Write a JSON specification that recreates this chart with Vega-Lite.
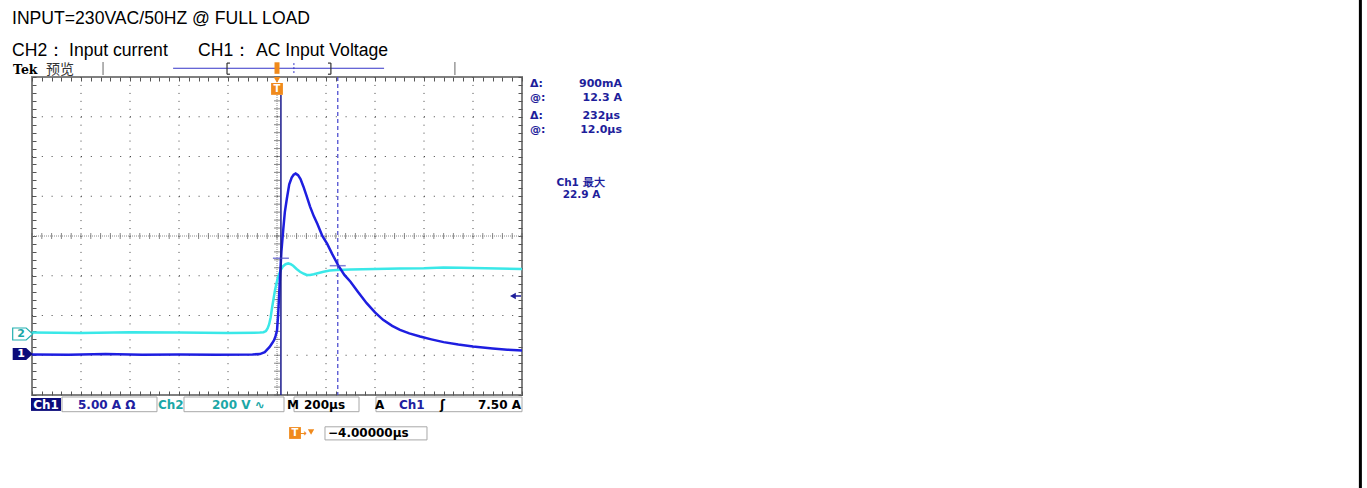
{
  "$schema": "https://vega.github.io/schema/vega-lite/v6.json",
  "width": 490,
  "height": 318,
  "autosize": {"type": "none"},
  "padding": {"left": 32, "top": 77, "right": 845, "bottom": 93},
  "background": "white",
  "config": {"view": {"stroke": "#808080", "strokeWidth": 2}},
  "resolve": {"axis": {"x": "independent", "y": "independent"}},
  "datasets": {
    "ch1": [
      {"t": -1000, "d": -2.98}, {"t": -850, "d": -2.99}, {"t": -700, "d": -2.97}, {"t": -550, "d": -2.99},
      {"t": -400, "d": -2.98}, {"t": -250, "d": -2.99}, {"t": -100, "d": -2.98}, {"t": -70, "d": -2.97},
      {"t": -50, "d": -2.92}, {"t": -30, "d": -2.79}, {"t": -20, "d": -2.7}, {"t": -12, "d": -2.62},
      {"t": -6, "d": -2.52}, {"t": 0, "d": -2.38}, {"t": 5, "d": -1.95}, {"t": 12, "d": -1.06},
      {"t": 18, "d": -0.39}, {"t": 26, "d": 0.2}, {"t": 32, "d": 0.6}, {"t": 40, "d": 0.93},
      {"t": 50, "d": 1.3}, {"t": 60, "d": 1.47}, {"t": 68, "d": 1.54}, {"t": 76, "d": 1.57},
      {"t": 86, "d": 1.53}, {"t": 96, "d": 1.43}, {"t": 108, "d": 1.24}, {"t": 120, "d": 1.02},
      {"t": 135, "d": 0.74}, {"t": 150, "d": 0.5}, {"t": 165, "d": 0.3}, {"t": 185, "d": 0.0},
      {"t": 205, "d": -0.2}, {"t": 225, "d": -0.45}, {"t": 250, "d": -0.74}, {"t": 275, "d": -0.98},
      {"t": 300, "d": -1.15}, {"t": 330, "d": -1.4}, {"t": 366, "d": -1.69}, {"t": 400, "d": -1.92},
      {"t": 433, "d": -2.11}, {"t": 470, "d": -2.26}, {"t": 502, "d": -2.36}, {"t": 540, "d": -2.45},
      {"t": 584, "d": -2.53}, {"t": 630, "d": -2.6}, {"t": 680, "d": -2.67}, {"t": 740, "d": -2.73},
      {"t": 800, "d": -2.78}, {"t": 880, "d": -2.83}, {"t": 940, "d": -2.86}, {"t": 1000, "d": -2.88}
    ],
    "ch2": [
      {"t": -1000, "d": -2.43}, {"t": -800, "d": -2.44}, {"t": -600, "d": -2.42}, {"t": -400, "d": -2.43},
      {"t": -200, "d": -2.44}, {"t": -70, "d": -2.43}, {"t": -55, "d": -2.42}, {"t": -45, "d": -2.39},
      {"t": -38, "d": -2.32}, {"t": -32, "d": -2.22}, {"t": -26, "d": -2.05}, {"t": -20, "d": -1.8},
      {"t": -14, "d": -1.58}, {"t": -8, "d": -1.36}, {"t": -3, "d": -1.22}, {"t": 3, "d": -1.06},
      {"t": 8, "d": -0.97}, {"t": 15, "d": -0.86}, {"t": 25, "d": -0.76}, {"t": 35, "d": -0.71},
      {"t": 46, "d": -0.69}, {"t": 56, "d": -0.71}, {"t": 66, "d": -0.75}, {"t": 80, "d": -0.83},
      {"t": 94, "d": -0.9}, {"t": 110, "d": -0.95}, {"t": 121, "d": -0.98}, {"t": 135, "d": -0.98},
      {"t": 150, "d": -0.96}, {"t": 170, "d": -0.93}, {"t": 190, "d": -0.9}, {"t": 215, "d": -0.87},
      {"t": 244, "d": -0.855}, {"t": 300, "d": -0.84}, {"t": 400, "d": -0.83}, {"t": 500, "d": -0.82},
      {"t": 600, "d": -0.81}, {"t": 680, "d": -0.79}, {"t": 750, "d": -0.8}, {"t": 850, "d": -0.81},
      {"t": 1000, "d": -0.83}
    ],
    "xt": [
      {"t": -1000, "d": 0}, {"t": -960, "d": 0}, {"t": -920, "d": 0}, {"t": -880, "d": 0}, {"t": -840, "d": 0},
      {"t": -800, "d": 0}, {"t": -760, "d": 0}, {"t": -720, "d": 0}, {"t": -680, "d": 0}, {"t": -640, "d": 0},
      {"t": -600, "d": 0}, {"t": -560, "d": 0}, {"t": -520, "d": 0}, {"t": -480, "d": 0}, {"t": -440, "d": 0},
      {"t": -400, "d": 0}, {"t": -360, "d": 0}, {"t": -320, "d": 0}, {"t": -280, "d": 0}, {"t": -240, "d": 0},
      {"t": -200, "d": 0}, {"t": -160, "d": 0}, {"t": -120, "d": 0}, {"t": -80, "d": 0}, {"t": -40, "d": 0},
      {"t": 0, "d": 0}, {"t": 40, "d": 0}, {"t": 80, "d": 0}, {"t": 120, "d": 0}, {"t": 160, "d": 0},
      {"t": 200, "d": 0}, {"t": 240, "d": 0}, {"t": 280, "d": 0}, {"t": 320, "d": 0}, {"t": 360, "d": 0},
      {"t": 400, "d": 0}, {"t": 440, "d": 0}, {"t": 480, "d": 0}, {"t": 520, "d": 0}, {"t": 560, "d": 0},
      {"t": 600, "d": 0}, {"t": 640, "d": 0}, {"t": 680, "d": 0}, {"t": 720, "d": 0}, {"t": 760, "d": 0},
      {"t": 800, "d": 0}, {"t": 840, "d": 0}, {"t": 880, "d": 0}, {"t": 920, "d": 0}, {"t": 960, "d": 0},
      {"t": 1000, "d": 0}
    ],
    "yt": [
      {"d": -4, "t": 0}, {"d": -3.8, "t": 0}, {"d": -3.6, "t": 0}, {"d": -3.4, "t": 0}, {"d": -3.2, "t": 0},
      {"d": -3, "t": 0}, {"d": -2.8, "t": 0}, {"d": -2.6, "t": 0}, {"d": -2.4, "t": 0}, {"d": -2.2, "t": 0},
      {"d": -2, "t": 0}, {"d": -1.8, "t": 0}, {"d": -1.6, "t": 0}, {"d": -1.4, "t": 0}, {"d": -1.2, "t": 0},
      {"d": -1, "t": 0}, {"d": -0.8, "t": 0}, {"d": -0.6, "t": 0}, {"d": -0.4, "t": 0}, {"d": -0.2, "t": 0},
      {"d": 0, "t": 0}, {"d": 0.2, "t": 0}, {"d": 0.4, "t": 0}, {"d": 0.6, "t": 0}, {"d": 0.8, "t": 0},
      {"d": 1, "t": 0}, {"d": 1.2, "t": 0}, {"d": 1.4, "t": 0}, {"d": 1.6, "t": 0}, {"d": 1.8, "t": 0},
      {"d": 2, "t": 0}, {"d": 2.2, "t": 0}, {"d": 2.4, "t": 0}, {"d": 2.6, "t": 0}, {"d": 2.8, "t": 0},
      {"d": 3, "t": 0}, {"d": 3.2, "t": 0}, {"d": 3.4, "t": 0}, {"d": 3.6, "t": 0}, {"d": 3.8, "t": 0},
      {"d": 4, "t": 0}
    ]
  },
  "encoding": {
    "x": {"field": "t", "type": "quantitative", "scale": {"domain": [-1000, 1000], "nice": false, "zero": false}, "axis": null},
    "y": {"field": "d", "type": "quantitative", "scale": {"domain": [-4, 4], "nice": false, "zero": false}, "axis": null}
  },
  "layer": [
    {
      "data": {"values": [
        {"t": -800, "d": 4, "d2": -4}, {"t": -600, "d": 4, "d2": -4}, {"t": -400, "d": 4, "d2": -4}, {"t": -200, "d": 4, "d2": -4},
        {"t": 200, "d": 4, "d2": -4}, {"t": 400, "d": 4, "d2": -4}, {"t": 600, "d": 4, "d2": -4}, {"t": 800, "d": 4, "d2": -4}
      ]},
      "mark": {"type": "rule", "color": "#444444", "strokeWidth": 1, "strokeDash": [1, 6.95]},
      "encoding": {
        "x": {"field": "t", "type": "quantitative", "scale": {"domain": [-1000, 1000], "nice": false, "zero": false},
          "axis": {"orient": "bottom", "values": [-1000,-960,-920,-880,-840,-800,-760,-720,-680,-640,-600,-560,-520,-480,-440,-400,-360,-320,-280,-240,-200,-160,-120,-80,-40,0,40,80,120,160,200,240,280,320,360,400,440,480,520,560,600,640,680,720,760,800,840,880,920,960,1000],
            "tickSize": -4, "tickColor": "#555555", "tickWidth": 1, "labels": false, "domain": false, "grid": false, "title": null}},
        "y2": {"field": "d2"}
      }
    },
    {
      "data": {"values": [
        {"d": -3, "t": -1000, "t2": 1000}, {"d": -2, "t": -1000, "t2": 1000}, {"d": -1, "t": -1000, "t2": 1000},
        {"d": 1, "t": -1000, "t2": 1000}, {"d": 2, "t": -1000, "t2": 1000}, {"d": 3, "t": -1000, "t2": 1000}
      ]},
      "mark": {"type": "rule", "color": "#444444", "strokeWidth": 1, "strokeDash": [1, 8.8]},
      "encoding": {
        "y": {"field": "d", "type": "quantitative", "scale": {"domain": [-4, 4], "nice": false, "zero": false},
          "axis": {"orient": "left", "values": [-4,-3.8,-3.6,-3.4,-3.2,-3,-2.8,-2.6,-2.4,-2.2,-2,-1.8,-1.6,-1.4,-1.2,-1,-0.8,-0.6,-0.4,-0.2,0,0.2,0.4,0.6,0.8,1,1.2,1.4,1.6,1.8,2,2.2,2.4,2.6,2.8,3,3.2,3.4,3.6,3.8,4],
            "tickSize": -4, "tickColor": "#555555", "tickWidth": 1, "labels": false, "domain": false, "grid": false, "title": null}},
        "x2": {"field": "t2"}
      }
    },
    {
      "data": {"values": [{"t": -1000, "t2": 1000, "d": 0, "d2": 0}, {"t": 0, "t2": 0, "d": 4, "d2": -4}]},
      "mark": {"type": "rule", "color": "#8c8c8c", "strokeWidth": 1, "strokeDash": [1, 1]},
      "encoding": {"x2": {"field": "t2"}, "y2": {"field": "d2"}}
    },
    {
      "data": {"name": "xt"},
      "mark": {"type": "tick", "orient": "vertical", "size": 6, "thickness": 1, "color": "#555555"},
      "encoding": {
        "x": {"field": "t", "type": "quantitative", "scale": {"domain": [-1000, 1000], "nice": false, "zero": false},
          "axis": {"orient": "top", "values": [-1000,-960,-920,-880,-840,-800,-760,-720,-680,-640,-600,-560,-520,-480,-440,-400,-360,-320,-280,-240,-200,-160,-120,-80,-40,0,40,80,120,160,200,240,280,320,360,400,440,480,520,560,600,640,680,720,760,800,840,880,920,960,1000],
            "tickSize": -4, "tickColor": "#555555", "tickWidth": 1, "labels": false, "domain": false, "grid": false, "title": null}}
      }
    },
    {
      "data": {"name": "yt"},
      "mark": {"type": "tick", "orient": "horizontal", "size": 6, "thickness": 1, "color": "#555555"},
      "encoding": {
        "y": {"field": "d", "type": "quantitative", "scale": {"domain": [-4, 4], "nice": false, "zero": false},
          "axis": {"orient": "right", "values": [-4,-3.8,-3.6,-3.4,-3.2,-3,-2.8,-2.6,-2.4,-2.2,-2,-1.8,-1.6,-1.4,-1.2,-1,-0.8,-0.6,-0.4,-0.2,0,0.2,0.4,0.6,0.8,1,1.2,1.4,1.6,1.8,2,2.2,2.4,2.6,2.8,3,3.2,3.4,3.6,3.8,4],
            "tickSize": -4, "tickColor": "#555555", "tickWidth": 1, "labels": false, "domain": false, "grid": false, "title": null}}
      }
    },
    {
      "data": {"values": [{"t": -710, "t2": -710, "d": 4.38, "d2": 4.05}, {"t": 726, "t2": 726, "d": 4.38, "d2": 4.05}]},
      "mark": {"type": "rule", "color": "#9a9a9a", "strokeWidth": 1.5},
      "encoding": {"x2": {"field": "t2"}, "y2": {"field": "d2"}}
    },
    {
      "data": {"values": [{"t": -424, "t2": 437, "d": 4.22, "d2": 4.22}]},
      "mark": {"type": "rule", "color": "#3434c8", "strokeWidth": 1},
      "encoding": {"x2": {"field": "t2"}, "y2": {"field": "d2"}}
    },
    {
      "data": {"values": [
        {"t": -204, "t2": -204, "d": 4.35, "d2": 4.07}, {"t": -204, "t2": -192, "d": 4.35, "d2": 4.35}, {"t": -204, "t2": -192, "d": 4.07, "d2": 4.07},
        {"t": 220, "t2": 220, "d": 4.35, "d2": 4.07}, {"t": 208, "t2": 220, "d": 4.35, "d2": 4.35}, {"t": 208, "t2": 220, "d": 4.07, "d2": 4.07}
      ]},
      "mark": {"type": "rule", "color": "#333333", "strokeWidth": 1.2},
      "encoding": {"x2": {"field": "t2"}, "y2": {"field": "d2"}}
    },
    {
      "data": {"values": [{"t": 69, "t2": 69, "d": 4.35, "d2": 4.1}]},
      "mark": {"type": "rule", "color": "#3434c8", "strokeWidth": 1, "strokeDash": [2, 2]},
      "encoding": {"x2": {"field": "t2"}, "y2": {"field": "d2"}}
    },
    {
      "data": {"values": [{"t": 0, "t2": 0, "d": 4.37, "d2": 4.08}]},
      "mark": {"type": "rule", "color": "#f08a1c", "strokeWidth": 5},
      "encoding": {"x2": {"field": "t2"}, "y2": {"field": "d2"}}
    },
    {
      "data": {"values": [{"t": 0, "d": 3.93}]},
      "mark": {"type": "point", "shape": "triangle-down", "filled": true, "size": 45, "color": "#f08a1c", "opacity": 1}
    },
    {
      "data": {"values": [{"t": 0, "d": 3.7}, {"t": 73.5, "d": -4.956}]},
      "mark": {"type": "point", "shape": "square", "filled": true, "size": 140, "color": "#f08a1c", "opacity": 1}
    },
    {
      "data": {"values": [{"t": 0, "d": 3.7, "s": "T"}, {"t": 73.5, "d": -4.956, "s": "T"}]},
      "mark": {"type": "text", "color": "white", "font": "DejaVu Sans", "fontWeight": "bold", "fontSize": 10, "align": "center", "baseline": "middle"},
      "encoding": {"text": {"field": "s"}}
    },
    {
      "data": {"values": [{"t": 248, "t2": 248, "d": 4, "d2": -4}]},
      "mark": {"type": "rule", "color": "#5050d0", "strokeWidth": 1.3, "strokeDash": [4, 3]},
      "encoding": {"x2": {"field": "t2"}, "y2": {"field": "d2"}}
    },
    {
      "data": {"name": "ch2"},
      "mark": {"type": "line", "color": "#3ae8e8", "strokeWidth": 2.5}
    },
    {
      "data": {"name": "ch1"},
      "mark": {"type": "line", "color": "#1e1ee0", "strokeWidth": 2.5}
    },
    {
      "data": {"values": [{"t": 16, "t2": 16, "d": 3.55, "d2": -4}]},
      "mark": {"type": "rule", "color": "#1a1a8c", "strokeWidth": 1.5},
      "encoding": {"x2": {"field": "t2"}, "y2": {"field": "d2"}}
    },
    {
      "data": {"values": [{"t": 16, "d": -0.561}, {"t": 248, "d": -0.747}]},
      "mark": {"type": "tick", "orient": "horizontal", "size": 16, "thickness": 1.5, "color": "#4a4ac8"}
    },
    {
      "data": {"values": [{"t": 963, "t2": 996, "d": -1.509, "d2": -1.509}]},
      "mark": {"type": "rule", "color": "#1e1e9b", "strokeWidth": 1.5},
      "encoding": {"x2": {"field": "t2"}, "y2": {"field": "d2"}}
    },
    {
      "data": {"values": [{"t": 963, "d": -1.509}]},
      "mark": {"type": "point", "shape": "triangle-left", "filled": true, "size": 45, "color": "#1e1e9b", "opacity": 1}
    },
    {
      "data": {"values": [{"t": -1038, "d": -2.465}]},
      "mark": {"type": "point", "shape": "M-1,-0.6L0.35,-0.6L1,0L0.35,0.6L-1,0.6Z", "filled": true, "size": 400, "fill": "white", "stroke": "#22b0b0", "strokeWidth": 1.2, "opacity": 1}
    },
    {
      "data": {"values": [{"t": -1038, "d": -2.968}]},
      "mark": {"type": "point", "shape": "M-1,-0.6L0.35,-0.6L1,0L0.35,0.6L-1,0.6Z", "filled": true, "size": 400, "color": "#0b0b7a", "opacity": 1}
    },
    {
      "data": {"values": [{"t": -1045, "d": -2.465, "s": "2"}]},
      "mark": {"type": "text", "color": "#1ba7a7", "font": "DejaVu Sans", "fontWeight": "bold", "fontSize": 11, "align": "center", "baseline": "middle"},
      "encoding": {"text": {"field": "s"}}
    },
    {
      "data": {"values": [{"t": -1045, "d": -2.968, "s": "1"}]},
      "mark": {"type": "text", "color": "white", "font": "DejaVu Sans", "fontWeight": "bold", "fontSize": 11, "align": "center", "baseline": "middle"},
      "encoding": {"text": {"field": "s"}}
    },
    {
      "data": {"values": [
        {"t": -1081.6, "d": 5.333, "s": "INPUT=230VAC/50HZ @ FULL LOAD"},
        {"t": -1081.6, "d": 4.528, "s": "CH2："},
        {"t": -849, "d": 4.528, "s": "Input current"},
        {"t": -322.4, "d": 4.528, "s": "CH1："},
        {"t": -85.7, "d": 4.528, "s": "AC Input Voltage"}
      ]},
      "mark": {"type": "text", "color": "black", "font": "'Liberation Sans Narrow', 'Liberation Sans', sans-serif", "fontSize": 17.6, "align": "left", "baseline": "alphabetic"},
      "encoding": {"text": {"field": "s"}}
    },
    {
      "data": {"values": [{"t": -1077.5, "d": 4.075, "s": "Tek"}]},
      "mark": {"type": "text", "color": "black", "font": "DejaVu Serif", "fontWeight": "bold", "fontSize": 12.5, "align": "left", "baseline": "alphabetic"},
      "encoding": {"text": {"field": "s"}}
    },
    {
      "data": {"values": [{"t": -942.9, "d": 4.08, "s": "预览"}]},
      "mark": {"type": "text", "color": "#333333", "font": "Noto Sans CJK SC", "fontSize": 14, "align": "left", "baseline": "alphabetic"},
      "encoding": {"text": {"field": "s"}}
    },
    {
      "data": {"values": [
        {"t": 1032.6, "d": 3.741, "s": "Δ:"}, {"t": 1032.6, "d": 3.404, "s": "@:"},
        {"t": 1032.6, "d": 2.936, "s": "Δ:"}, {"t": 1032.6, "d": 2.599, "s": "@:"}
      ]},
      "mark": {"type": "text", "color": "#1e1e9b", "font": "DejaVu Sans", "fontWeight": "bold", "fontSize": 11, "align": "left", "baseline": "alphabetic"},
      "encoding": {"text": {"field": "s"}}
    },
    {
      "data": {"values": [
        {"t": 1408, "d": 3.741, "s": "900mA"}, {"t": 1408, "d": 3.404, "s": "12.3 A"},
        {"t": 1400, "d": 2.936, "s": "232µs"}, {"t": 1408, "d": 2.599, "s": "12.0µs"}
      ]},
      "mark": {"type": "text", "color": "#1e1e9b", "font": "DejaVu Sans", "fontWeight": "bold", "fontSize": 11, "align": "right", "baseline": "alphabetic"},
      "encoding": {"text": {"field": "s"}}
    },
    {
      "data": {"values": [
        {"t": 1238.8, "d": 1.27, "s": "Ch1 最大"}, {"t": 1242.8, "d": 0.956, "s": "22.9 A"}
      ]},
      "mark": {"type": "text", "color": "#1e1e9b", "font": "DejaVu Sans", "fontWeight": "bold", "fontSize": 10.5, "align": "center", "baseline": "alphabetic"},
      "encoding": {"text": {"field": "s"}}
    },
    {
      "data": {"values": [{"t": -1004, "t2": -881.6, "d": -4.075, "d2": -4.4}]},
      "mark": {"type": "rect", "color": "#0b0b7a", "opacity": 1},
      "encoding": {"x2": {"field": "t2"}, "y2": {"field": "d2"}}
    },
    {
      "data": {"values": [
        {"t": -877.6, "t2": -489.8, "d": -4.05, "d2": -4.42},
        {"t": -379.6, "t2": 28.6, "d": -4.05, "d2": -4.42},
        {"t": 69.4, "t2": 334.7, "d": -4.05, "d2": -4.42},
        {"t": 404, "t2": 1000, "d": -4.05, "d2": -4.42},
        {"t": 195.9, "t2": 612.2, "d": -4.8, "d2": -5.13}
      ]},
      "mark": {"type": "rect", "fill": "white", "fillOpacity": 0, "stroke": "#a8a8a8", "strokeWidth": 1},
      "encoding": {"x2": {"field": "t2"}, "y2": {"field": "d2"}}
    },
    {
      "data": {"values": [{"t": -942.8, "d": -4.352, "s": "Ch1"}]},
      "mark": {"type": "text", "color": "white", "font": "DejaVu Sans", "fontWeight": "bold", "fontSize": 12, "align": "center", "baseline": "alphabetic"},
      "encoding": {"text": {"field": "s"}}
    },
    {
      "data": {"values": [{"t": -812.2, "d": -4.352, "s": "5.00 A Ω"}, {"t": 498, "d": -4.352, "s": "Ch1"}]},
      "mark": {"type": "text", "color": "#2020a0", "font": "DejaVu Sans", "fontWeight": "bold", "fontSize": 12, "align": "left", "baseline": "alphabetic"},
      "encoding": {"text": {"field": "s"}}
    },
    {
      "data": {"values": [{"t": -485.7, "d": -4.352, "s": "Ch2"}, {"t": -265.3, "d": -4.352, "s": "200 V ∿"}]},
      "mark": {"type": "text", "color": "#1ba7a7", "font": "DejaVu Sans", "fontWeight": "bold", "fontSize": 12, "align": "left", "baseline": "alphabetic"},
      "encoding": {"text": {"field": "s"}}
    },
    {
      "data": {"values": [
        {"t": 40.8, "d": -4.352, "s": "M"}, {"t": 110.2, "d": -4.352, "s": "200µs"},
        {"t": 400, "d": -4.352, "s": "A"}, {"t": 665, "d": -4.352, "s": "ʃ"},
        {"t": 208.2, "d": -5.069, "s": "−4.00000µs"}
      ]},
      "mark": {"type": "text", "color": "black", "font": "DejaVu Sans", "fontWeight": "bold", "fontSize": 12, "align": "left", "baseline": "alphabetic"},
      "encoding": {"text": {"field": "s"}}
    },
    {
      "data": {"values": [{"t": 995.9, "d": -4.352, "s": "7.50 A"}]},
      "mark": {"type": "text", "color": "black", "font": "DejaVu Sans", "fontWeight": "bold", "fontSize": 12, "align": "right", "baseline": "alphabetic"},
      "encoding": {"text": {"field": "s"}}
    },
    {
      "data": {"values": [{"t": 106, "d": -4.956, "s": "→"}]},
      "mark": {"type": "text", "color": "#f08a1c", "font": "DejaVu Sans", "fontWeight": "bold", "fontSize": 9, "align": "center", "baseline": "middle"},
      "encoding": {"text": {"field": "s"}}
    },
    {
      "data": {"values": [{"t": 139, "d": -4.93}]},
      "mark": {"type": "point", "shape": "triangle-down", "filled": true, "size": 40, "color": "#f08a1c", "opacity": 1}
    },
    {
      "data": {"values": [{"t": 4422, "t2": 4422, "d": 6.0, "d2": -6.4}]},
      "mark": {"type": "rule", "color": "black", "strokeWidth": 3},
      "encoding": {"x2": {"field": "t2"}, "y2": {"field": "d2"}}
    }
  ]
}
